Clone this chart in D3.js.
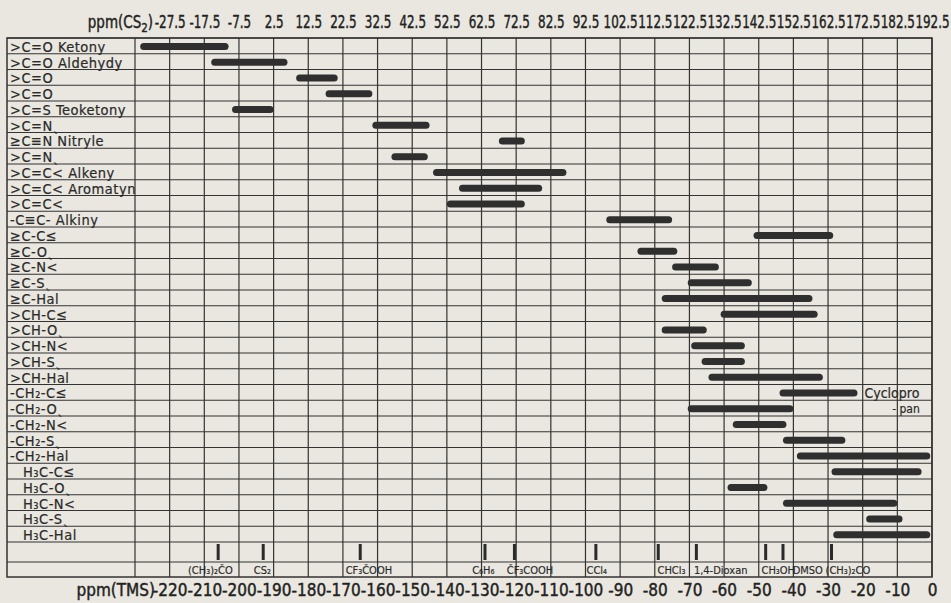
<!DOCTYPE html>
<html>
<head>
<meta charset="utf-8">
<script src="https://cdn.jsdelivr.net/npm/d3@7"></script>
<style>
  html, body { margin: 0; padding: 0; background: #e9e7df; }
  svg { display: block; }
</style>
</head>
<body>
<svg id="chart" width="951" height="603"></svg>
<script>
// Carbon-13 chemical shift ranges of structural groups (ppm relative to TMS)
const groups = [
  ">C=O Ketony", ">C=O Aldehydy", ">C=O", ">C=O", ">C=S Teoketony",
  ">C=Nˎ", "≥C≡N Nitryle", ">C=Nˎ", ">C=C< Alkeny", ">C=C< Aromatyn",
  ">C=C<", "-C≡C- Alkiny", "≥C-C≤", "≥C-Oˎ", "≥C-N<", "≥C-Sˎ", "≥C-Hal",
  ">CH-C≤", ">CH-Oˎ", ">CH-N<", ">CH-Sˎ", ">CH-Hal",
  "-CH₂-C≤", "-CH₂-Oˎ", "-CH₂-N<", "-CH₂-Sˎ", "-CH₂-Hal",
  "H₃C-C≤", "H₃C-Oˎ", "H₃C-N<", "H₃C-Sˎ", "H₃C-Hal"
];
const shiftFrom = [
  -228.5, -208, -183.5, -175, -202,
  -161.5, -125, -156, -144, -136.5,
  -140, -94, -51.5, -85, -75, -70.5, -78,
  -61, -78, -69.5, -66.5, -64.5,
  -44, -70.5, -57.5, -43, -39,
  -29, -59, -43, -19, -28.5
];
const shiftTo = [
  -203, -186, -171.5, -161.5, -190,
  -145, -117.5, -145.5, -105.5, -112.5,
  -117.5, -75, -28.5, -73.5, -61.5, -52, -34.5,
  -33, -65, -54, -54, -31.5,
  -21.5, -40, -42, -25, -0.5,
  -3, -47.5, -10, -8.5, -0.5
];

// Axis labels: TMS scale (bottom) and CS2 scale (top)
const tmsTicks = [-220, -210, -200, -190, -180, -170, -160, -150, -140, -130, -120,
                  -110, -100, -90, -80, -70, -60, -50, -40, -30, -20, -10, 0];
const cs2Ticks = [-27.5, -17.5, -7.5, 2.5, 12.5, 22.5, 32.5, 42.5, 52.5, 62.5, 72.5,
                  82.5, 92.5, 102.5, 112.5, 122.5, 132.5, 142.5, 152.5, 162.5, 172.5, 182.5, 192.5];
const cs2Offset = 192.5;

// Reference solvent signals
const solventNames = ["(CH₃)₂ČO", "CS₂", "CF₃ČOOH", "C₆H₆", "ČF₃COOH", "CCl₄",
                      "CHCl₃", "1,4-Dioxan", "CH₃OH", "DMSO", "(CH₃)₂CO"];
const solventShift = [-206, -193, -165, -129, -120.5, -97, -79, -68, -48, -43, -29];
const solventLabelAt = [-215, -196, -169.5, -133, -123, -100, -79.5, -69, -49.5, -40.5, -31];

const svg = d3.select("#chart");
const ink = "#333";
const frameL = 7, frameR = 932, frameT = 38, rowsB = 542, tickRowB = 562, frameB = 577;

const x = d3.scaleLinear().domain([-230, 0]).range([135, frameR]);
const xCs2 = d3.scaleLinear().domain([-230 + cs2Offset, cs2Offset]).range([135, frameR]);
const y = d3.scaleBand().domain(d3.range(groups.length)).range([frameT, rowsB]).padding(0);

// grid: vertical lines every 10 ppm
const grid = svg.append("g").attr("stroke", ink).attr("stroke-width", 1.2).attr("fill", "none");
grid.selectAll("line.v").data(d3.range(-230, 1, 10)).join("line")
  .attr("x1", d => x(d)).attr("x2", d => x(d))
  .attr("y1", frameT).attr("y2", frameB);

// grid: horizontal row lines
const rowLines = d3.range(groups.length + 1).map(i => frameT + i * y.step()).concat([tickRowB]);
grid.selectAll("line.h").data(rowLines).join("line")
  .attr("x1", frameL).attr("x2", frameR)
  .attr("y1", d => d).attr("y2", d => d);

grid.append("rect")
  .attr("x", frameL).attr("y", frameT)
  .attr("width", frameR - frameL).attr("height", frameB - frameT)
  .attr("stroke-width", 1.5);

const labelFont = "'DejaVu Sans Condensed', 'DejaVu Sans', sans-serif";

// row labels
svg.append("g")
  .attr("font-family", labelFont)
  .attr("font-size", 14.5)
  .attr("letter-spacing", 0.5)
  .attr("fill", "#2a2a2a").attr("stroke", "#2a2a2a").attr("stroke-width", 0.2)
  .selectAll("text").data(groups).join("text")
  .attr("x", d => d.startsWith("H₃C") ? 23 : 10)
  .attr("y", (d, i) => y(i) + y.bandwidth() - 2)
  .text(d => d);

// shift-range bars
const barH = 7;
svg.append("g").attr("fill", "#2f2f2f")
  .selectAll("rect").data(groups).join("rect")
  .attr("x", (d, i) => x(shiftFrom[i]))
  .attr("width", (d, i) => x(shiftTo[i]) - x(shiftFrom[i]))
  .attr("y", (d, i) => y(i) + y.bandwidth() / 2 - barH / 2 + 0.5)
  .attr("height", barH)
  .attr("rx", barH / 2);

// solvent markers and their names
svg.append("g").attr("stroke", "#2a2a2a").attr("stroke-width", 3)
  .selectAll("line").data(solventShift).join("line")
  .attr("x1", d => x(d)).attr("x2", d => x(d))
  .attr("y1", rowsB + 2).attr("y2", tickRowB - 2);

svg.append("g")
  .attr("font-family", labelFont)
  .attr("font-size", 11)
  .attr("fill", "#2a2a2a").attr("stroke", "#2a2a2a").attr("stroke-width", 0.15)
  .selectAll("text").data(solventNames).join("text")
  .attr("x", (d, i) => x(solventLabelAt[i]) + 1)
  .attr("y", frameB - 3)
  .text(d => d);

// note beside the CH2 range
const note = svg.append("text")
  .attr("font-family", labelFont)
  .attr("font-size", 14).attr("fill", "#2a2a2a")
  .attr("stroke", "#2a2a2a").attr("stroke-width", 0.2);
note.append("tspan").attr("x", x(-19.5)).attr("y", y(22) + y.bandwidth() - 2).text("Cyclopro");
note.append("tspan").attr("x", x(-11.5)).attr("y", y(23) + y.bandwidth() - 3)
  .attr("font-size", 12).text("- pan");

// axes
const axisFont = "'Liberation Sans Narrow', 'DejaVu Sans Condensed', sans-serif";

const topAxis = svg.append("g").attr("transform", "translate(0,28)")
  .call(d3.axisTop(xCs2).tickValues(cs2Ticks).tickSize(0).tickPadding(0).tickFormat(d => String(d)));
topAxis.select(".domain").remove();
topAxis.selectAll("text")
  .attr("font-family", axisFont).attr("font-size", 17)
  .attr("transform", "scale(0.78,1)")
  .attr("fill", "#222").attr("stroke", "#222").attr("stroke-width", 0.4);

const bottomAxis = svg.append("g").attr("transform", "translate(0,584)")
  .call(d3.axisBottom(x).tickValues(tmsTicks).tickSize(0).tickPadding(0).tickFormat(d => String(d)));
bottomAxis.select(".domain").remove();
bottomAxis.selectAll("text")
  .attr("font-family", axisFont).attr("font-size", 17)
  .attr("fill", "#222").attr("stroke", "#222").attr("stroke-width", 0.4);

// unit captions
const cs2Caption = svg.append("text")
  .attr("transform", "translate(153,28) scale(0.88,1)").attr("text-anchor", "end")
  .attr("font-family", axisFont).attr("font-size", 17)
  .attr("fill", "#222").attr("stroke", "#222").attr("stroke-width", 0.4);
cs2Caption.append("tspan").text("ppm(CS");
cs2Caption.append("tspan").attr("font-size", 13).attr("dy", 4).text("2");
cs2Caption.append("tspan").attr("dy", -4).text(")");

svg.append("text")
  .attr("x", 155).attr("y", 596).attr("text-anchor", "end")
  .attr("font-family", axisFont).attr("font-size", 17)
  .attr("fill", "#222").attr("stroke", "#222").attr("stroke-width", 0.4)
  .text("ppm(TMS)");
</script>
</body>
</html>
